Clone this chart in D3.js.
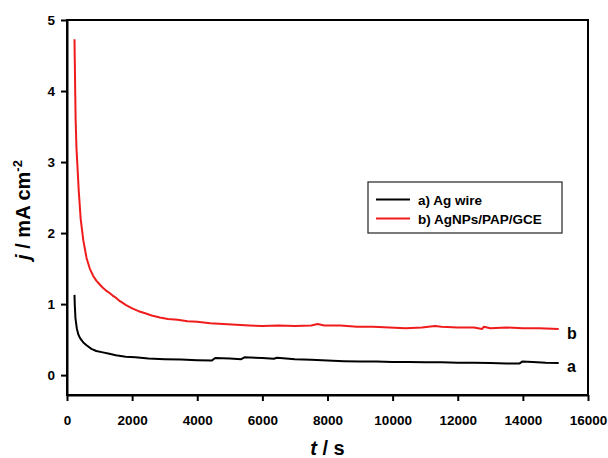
<!DOCTYPE html>
<html><head><meta charset="utf-8">
<script src="https://cdn.jsdelivr.net/npm/d3@7"></script>
<style>body{margin:0;background:#fff}svg{display:block}text{font-family:"Liberation Sans",Arial,sans-serif;font-weight:bold}</style>
</head><body>
<svg id="c" width="608" height="458"></svg>
<script>
const xTicks = [0,2000,4000,6000,8000,10000,12000,14000,16000];
const yTicks = [0,1,2,3,4,5];
const seriesNames = ["a) Ag wire","b) AgNPs/PAP/GCE"];
const seriesLabels = ["a","b"];
const seriesColors = ["#000000","#f01c1c"];
const tA = [230,240,260,300,350,400,500,600,750,900,1100,1300,1500,1800,2100,2500,3000,3500,4000,4450,4550,5000,5350,5450,6000,6350,6450,7000,7500,8000,8500,9000,9500,10000,10500,11000,11500,12000,12500,13000,13500,13900,13980,14300,14700,15100];
const jA = [1.13,0.98,0.80,0.66,0.57,0.52,0.46,0.42,0.37,0.34,0.32,0.30,0.28,0.26,0.25,0.235,0.225,0.22,0.21,0.205,0.24,0.235,0.225,0.25,0.24,0.23,0.245,0.225,0.215,0.205,0.195,0.19,0.19,0.185,0.185,0.18,0.18,0.175,0.175,0.17,0.165,0.165,0.19,0.185,0.175,0.17];
const tB = [230,240,250,265,290,320,360,420,500,600,700,800,900,1000,1100,1200,1300,1400,1500,1600,1700,1800,2000,2200,2400,2600,2850,3100,3400,3700,4000,4400,4800,5200,5600,6000,6500,7000,7500,7700,7900,8400,8900,9400,9900,10400,10900,11300,11500,12000,12500,12750,12800,13000,13500,14000,14500,15100];
const jB = [4.73,4.4,4.05,3.6,3.2,2.95,2.6,2.2,1.9,1.65,1.50,1.40,1.33,1.28,1.23,1.19,1.16,1.12,1.09,1.05,1.02,0.99,0.94,0.90,0.87,0.84,0.81,0.79,0.78,0.76,0.75,0.73,0.72,0.71,0.70,0.69,0.70,0.69,0.70,0.72,0.70,0.70,0.68,0.68,0.67,0.66,0.67,0.69,0.68,0.67,0.67,0.65,0.68,0.66,0.67,0.66,0.66,0.65];

const svg = d3.select("#c");
const L=67,R=588,T=20,B=395;
const x = d3.scaleLinear().domain([0,16000]).range([L,R]);
const y = d3.scaleLinear().domain([-0.28,5]).range([B,T]);

svg.append("rect").attr("x",L).attr("y",T).attr("width",R-L).attr("height",B-T)
  .attr("fill","none").attr("stroke","#000").attr("stroke-width",2);

const xa = svg.append("g").attr("transform",`translate(0,${B})`)
  .call(d3.axisBottom(x).tickValues(xTicks).tickFormat(d3.format("d")).tickSizeInner(6).tickSizeOuter(0).tickPadding(14));
const ya = svg.append("g").attr("transform",`translate(${L},0)`)
  .call(d3.axisLeft(y).tickValues(yTicks).tickFormat(d3.format("d")).tickSizeInner(6).tickSizeOuter(0).tickPadding(6));
[xa,ya].forEach(g=>{
  g.select(".domain").attr("stroke","#000").attr("stroke-width",2);
  g.selectAll(".tick line").attr("stroke","#000").attr("stroke-width",2);
  g.selectAll(".tick text").attr("fill","#000").style("font-size","13.5px").style("font-weight","bold").style("font-family","Liberation Sans, Arial, sans-serif");
});

const line = d3.line().x(d=>x(d[0])).y(d=>y(d[1]));
const dataA = tA.map((t,i)=>[t,jA[i]]);
const dataB = tB.map((t,i)=>[t,jB[i]]);
[dataA,dataB].forEach((d,i)=>{
  svg.append("path").datum(d).attr("d",line).attr("fill","none")
    .attr("stroke",seriesColors[i]).attr("stroke-width",2).attr("stroke-linejoin","round");
});

svg.append("text").attr("x",567).attr("y",372).style("font-size","16px").text(seriesLabels[0]);
svg.append("text").attr("x",567).attr("y",339).style("font-size","16px").text(seriesLabels[1]);

const lg = svg.append("g");
lg.append("rect").attr("x",368).attr("y",182).attr("width",194).attr("height",51)
  .attr("fill","#fff").attr("stroke","#333").attr("stroke-width",1.3);
[199.5,218.5].forEach((yy,i)=>{
  lg.append("line").attr("x1",376).attr("x2",410).attr("y1",yy).attr("y2",yy)
    .attr("stroke",seriesColors[i]).attr("stroke-width",2);
  lg.append("text").attr("x",418).attr("y",yy+5).style("font-size","13.5px").text(seriesNames[i]);
});

svg.append("text").attr("x",(L+R)/2).attr("y",455).attr("text-anchor","middle").style("font-size","20px")
  .html('<tspan font-style="italic">t</tspan> / s');
svg.append("text").attr("transform","translate(30,210) rotate(-90)").attr("text-anchor","middle").style("font-size","20px")
  .html('<tspan font-style="italic">j</tspan> / mA cm<tspan dy="-8" font-size="13px">-2</tspan>');
</script>
</body></html>
